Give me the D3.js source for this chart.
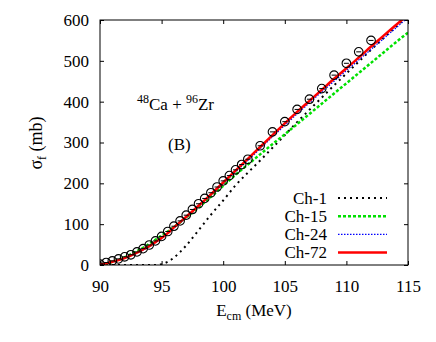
<!DOCTYPE html>
<html>
<head>
<meta charset="utf-8">
<script src="https://cdn.jsdelivr.net/npm/d3@7/dist/d3.min.js"></script>
<style>
  body { margin: 0; background: #fff; }
</style>
</head>
<body>
<div id="chart"></div>
<script>
// Deneysel noktalar (E_cm, sigma_f)
const expE = [90, 90.5, 91, 91.5, 92, 92.5, 93, 93.5, 94, 94.5, 95, 95.5, 96, 96.5, 97, 97.5, 98, 98.5, 99, 99.5,
              100, 100.5, 101, 101.5, 102, 103, 104, 105, 106, 107, 108, 109, 110, 111, 112];
const expSigma = [2, 6, 10, 15, 20, 25, 32, 40, 49, 59, 70, 82, 95, 108, 122, 136, 150, 163, 177, 191,
                  206, 219, 233, 246, 259, 292, 326, 351, 381, 406, 432, 465, 494, 522, 550];

// Hesaplanan eğriler
const calcE = [90, 90.5, 91, 91.5, 92, 92.5, 93, 93.5, 94, 94.5, 95, 95.5, 96, 96.5, 97, 98, 99, 100,
               101, 102, 103, 104, 105, 106, 107, 108, 109, 110, 111, 112, 113, 114, 115];
const ch1 = [0, 0, 0, 0, 0, 0, 0, 0, 0, 0, 2, 8, 18, 32, 48, 85, 123, 158,
             195, 226, 256, 287, 318, 350, 380, 410, 440, 469, 498, 527, 555, 583, 611];
const ch15 = [1, 4, 8, 13, 19, 26, 34, 42, 52, 62, 72, 82, 93, 104, 116, 141, 167, 194,
              221, 246, 271, 296, 320, 345, 370, 395, 420, 445, 470, 495, 520, 545, 569];
const ch24 = [1, 4, 8, 12, 17, 23, 30, 37, 45, 55, 65, 77, 90, 103, 116, 143, 171, 199,
              228, 256, 285, 314, 342, 370, 397, 424, 450, 476, 502, 528, 554, 580, 606];
const ch72 = [2, 4, 8, 12, 17, 23, 30, 38, 46, 56, 66, 78, 92, 105, 118, 145, 173, 202,
              231, 260, 289, 318, 347, 375, 402, 429, 456, 482, 508, 535, 561, 587, 613];

const xTicks = [90, 95, 100, 105, 110, 115];
const yTicks = [0, 100, 200, 300, 400, 500, 600];

const series = [
    { name: 'Ch-1', values: ch1, color: '#000000', width: 2, dash: '2,4' },
    { name: 'Ch-15', values: ch15, color: '#00e000', width: 2.5, dash: '3,2' },
    { name: 'Ch-24', values: ch24, color: '#0000ff', width: 1.2, dash: '1.5,1.5' },
    { name: 'Ch-72', values: ch72, color: '#ff0000', width: 2.5, dash: null },
];

const FONT = '"Liberation Serif", "Times New Roman", Times, "DejaVu Serif", serif';

const width = 436, height = 342;
const margin = { top: 20, right: 28, bottom: 77, left: 100 };
const innerW = width - margin.left - margin.right;
const innerH = height - margin.top - margin.bottom;

const svg = d3.select('#chart').append('svg')
    .attr('width', width)
    .attr('height', height)
    .style('font-family', FONT);

const g = svg.append('g').attr('transform', `translate(${margin.left},${margin.top})`);

const x = d3.scaleLinear().domain([90, 115]).range([0, innerW]);
const y = d3.scaleLinear().domain([0, 600]).range([innerH, 0]);

svg.append('defs').append('clipPath').attr('id', 'clip')
    .append('rect').attr('width', innerW).attr('height', innerH);

// Eksenler (içe dönük tikler)
const axisStyle = sel => {
    sel.attr('font-family', null);
    sel.select('.domain').remove();
    sel.selectAll('line').attr('stroke', '#000');
    sel.selectAll('text').attr('fill', '#000').style('font-size', '17px').style('font-family', FONT);
};

g.append('g').attr('transform', `translate(0,${innerH})`)
    .call(d3.axisBottom(x).tickValues(xTicks).tickSize(-4).tickPadding(15))
    .call(axisStyle);
g.append('g')
    .call(d3.axisLeft(y).tickValues(yTicks).tickSize(-4).tickPadding(11))
    .call(axisStyle);
g.append('g')
    .call(d3.axisTop(x).tickValues(xTicks).tickSize(-4).tickFormat(''))
    .call(axisStyle);
g.append('g').attr('transform', `translate(${innerW},0)`)
    .call(d3.axisRight(y).tickValues(yTicks).tickSize(-4).tickFormat(''))
    .call(axisStyle);

// Eğriler
const line = d3.line()
    .x(d => x(d[0]))
    .y(d => y(d[1]))
    .curve(d3.curveMonotoneX);

const plot = g.append('g').attr('clip-path', 'url(#clip)');

series.forEach(s => {
    plot.append('path')
        .datum(calcE.map((e, i) => [e, s.values[i]]))
        .attr('d', line)
        .attr('fill', 'none')
        .attr('stroke', s.color)
        .attr('stroke-width', s.width)
        .attr('stroke-dasharray', s.dash);
});

// Deneysel noktalar
const pts = plot.selectAll('.pt')
    .data(expE.map((e, i) => [e, expSigma[i]]))
    .enter().append('g')
    .attr('transform', d => `translate(${x(d[0])},${y(d[1])})`);
pts.append('circle').attr('r', 4.3).attr('fill', 'none').attr('stroke', '#000').attr('stroke-width', 1.1);
pts.append('line').attr('x1', -2.5).attr('x2', 2.5).attr('stroke', '#000').attr('stroke-width', 1);

// Çerçeve
g.append('rect').attr('width', innerW).attr('height', innerH)
    .attr('fill', 'none').attr('stroke', '#000').attr('stroke-width', 1);

// Etiketler
const yl = svg.append('text')
    .attr('transform', 'translate(42,143) rotate(-90)')
    .attr('text-anchor', 'middle')
    .style('font-size', '18px');
yl.append('tspan').text('σ');
yl.append('tspan').style('font-size', '12px').attr('dy', 4).text('f');
yl.append('tspan').attr('dy', -4).text(' (mb)');

const xl = svg.append('text')
    .attr('x', 254).attr('y', 316)
    .attr('text-anchor', 'middle')
    .style('font-size', '17px');
xl.append('tspan').text('E');
xl.append('tspan').style('font-size', '12px').attr('dy', 4).text('cm');
xl.append('tspan').attr('dy', -4).text(' (MeV)');

const ann = svg.append('text').attr('x', 137).attr('y', 110).style('font-size', '17px');
ann.append('tspan').style('font-size', '12px').attr('dy', -7).text('48');
ann.append('tspan').attr('dy', 7).text('Ca + ');
ann.append('tspan').style('font-size', '12px').attr('dy', -7).text('96');
ann.append('tspan').attr('dy', 7).text('Zr');

svg.append('text').attr('x', 168).attr('y', 150).style('font-size', '17px').text('(B)');

// Lejant
const legend = svg.selectAll('.legend')
    .data(series)
    .enter().append('g')
    .attr('transform', (d, i) => `translate(0, ${198 + i * 18.2})`);
legend.append('text')
    .attr('x', 327).attr('dy', '0.33em')
    .attr('text-anchor', 'end')
    .style('font-size', '17px')
    .text(d => d.name);
legend.append('line')
    .attr('x1', 338).attr('x2', 387)
    .attr('stroke', d => d.color)
    .attr('stroke-width', d => d.width)
    .attr('stroke-dasharray', d => d.dash);
</script>
</body>
</html>
